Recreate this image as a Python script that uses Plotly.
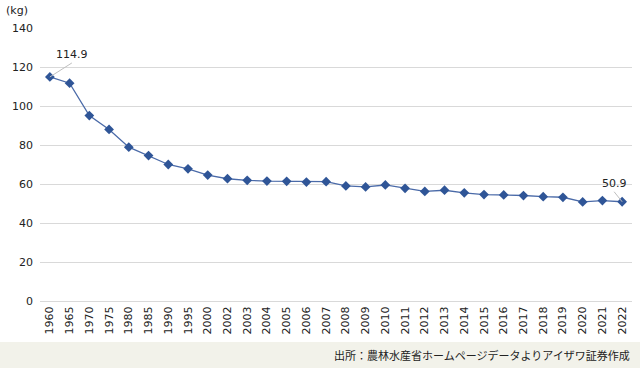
import plotly.graph_objects as go

years = ["1960", "1965", "1970", "1975", "1980", "1985", "1990", "1995", "2000",
         "2002", "2003", "2004", "2005", "2006", "2007", "2008", "2009", "2010",
         "2011", "2012", "2013", "2014", "2015", "2016", "2017", "2018", "2019",
         "2020", "2021", "2022"]
rice_kg = [114.9, 111.7, 95.1, 88.0, 78.9, 74.6, 70.0, 67.8, 64.6,
           62.7, 61.9, 61.5, 61.4, 61.0, 61.2, 59.0, 58.5, 59.5,
           57.8, 56.2, 56.8, 55.5, 54.6, 54.4, 54.1, 53.5, 53.2,
           50.8, 51.5, 50.9]
y_ticks = [0, 20, 40, 60, 80, 100, 120, 140]

FONT = "DejaVu Sans, Noto Sans CJK JP, sans-serif"
JFONT = "Noto Sans CJK JP, sans-serif"

fig = go.Figure()
fig.add_trace(go.Scatter(
    x=years, y=rice_kg, mode="lines+markers",
    line=dict(color="#4a6aa8", width=1.3),
    marker=dict(symbol="diamond", size=7.5, color="#2f5597"),
    hoverinfo="x+y", showlegend=False,
))

L, R, T, B = 40, 8, 28, 67
W, H = 640, 368
pw = W - L - R
ph = H - T - B

first_i = 0
last_i = len(years) - 1

fig.update_layout(
    width=W, height=H,
    margin=dict(l=L, r=R, t=T, b=B),
    paper_bgcolor="white", plot_bgcolor="white",
    font=dict(family=FONT, size=11, color="#222222"),
    xaxis=dict(
        type="category", tickangle=-90, showgrid=False,
        showline=True, linecolor="#d9d9d9", linewidth=1,
        ticks="", tickfont=dict(size=11, color="#222222"),
        range=[-0.5, len(years) - 0.5], fixedrange=True,
    ),
    yaxis=dict(
        range=[0, 140], tickvals=y_ticks, showgrid=True,
        gridcolor="#d9d9d9", gridwidth=1, zeroline=False,
        ticks="", tickfont=dict(size=11, color="#222222"),
        ticklabelstandoff=6, fixedrange=True,
    ),
    shapes=[dict(
        type="rect", xref="paper", yref="paper",
        x0=-L / pw, x1=1 + R / pw,
        y0=-(H - T - ph) / ph, y1=-(342 - (T + ph)) / ph,
        fillcolor="#f2f2ea", line=dict(width=0), layer="below",
    )],
    annotations=[
        dict(x=first_i, y=rice_kg[first_i], text=str(rice_kg[first_i]), showarrow=True,
             arrowhead=0, arrowwidth=1, arrowcolor="#bfbfbf",
             ax=22, ay=-14, xanchor="center", yanchor="bottom",
             font=dict(size=11, color="#222222", family=FONT)),
        dict(x=last_i, y=rice_kg[last_i], text=str(rice_kg[last_i]), showarrow=True,
             arrowhead=0, arrowwidth=1, arrowcolor="#bfbfbf",
             ax=-8, ay=-10, xanchor="center", yanchor="bottom",
             font=dict(size=11, color="#222222", family=FONT)),
        dict(x=-L / pw + 4 / pw, y=1 + 18 / ph, xref="paper", yref="paper",
             text="(kg)", showarrow=False, xanchor="left", yanchor="middle",
             font=dict(size=11, color="#222222", family=FONT)),
        dict(x=1, y=-(355 - (T + ph)) / ph, xref="paper", yref="paper",
             text="出所：農林水産省ホームページデータよりアイザワ証券作成",
             showarrow=False, xanchor="right", yanchor="middle",
             font=dict(size=11, color="#222222", family=JFONT)),
    ],
)

fig.write_html("out.html", config={"displayModeBar": False},
               post_script="document.body.style.margin='0';")
